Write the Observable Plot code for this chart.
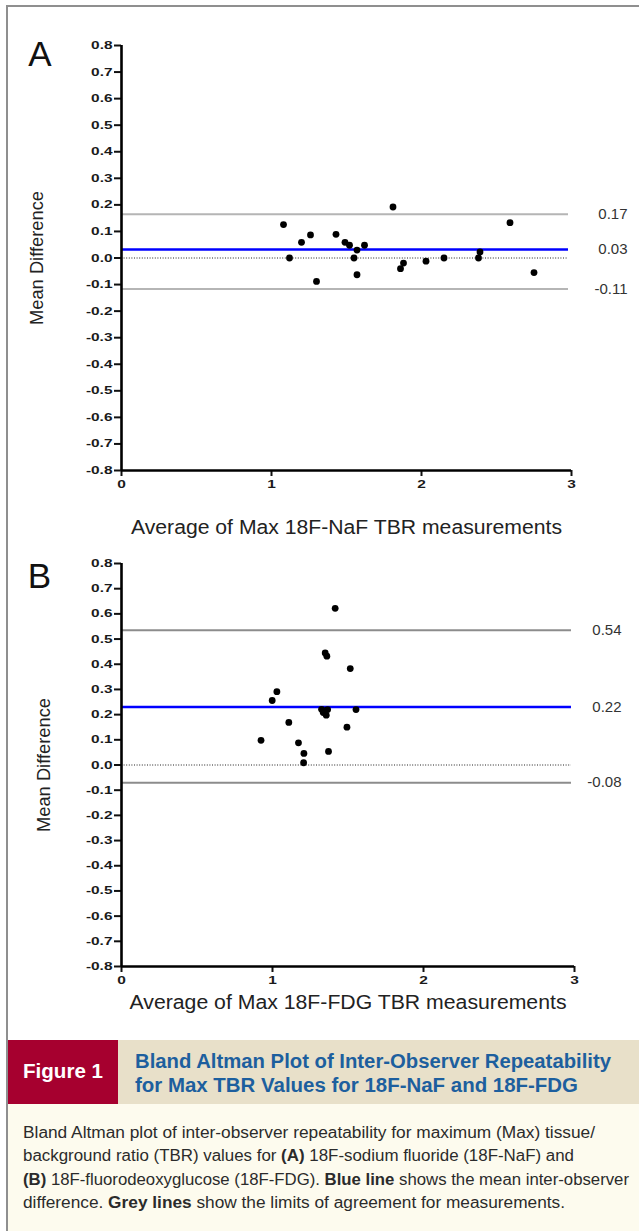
<!DOCTYPE html>
<html><head><meta charset="utf-8">
<script src="https://cdn.jsdelivr.net/npm/d3@7"></script>
<script src="https://cdn.jsdelivr.net/npm/@observablehq/plot@0.6"></script>
<style>
body{margin:0;background:#fff;}
#page{position:relative;width:639px;height:1231px;overflow:hidden;background:#fff;}
.panel{position:absolute;left:0;}
.bl{position:absolute;background:#8f8f8f;}
</style></head>
<body><div id="page">
<div id="pa" class="panel" style="top:0"></div>
<div id="pb" class="panel" style="top:545px"></div>
<svg id="cap" width="639" height="191" style="position:absolute;left:0;top:1040px">
<rect x="8" y="0" width="110" height="64" fill="#a6002f"/>
<rect x="118" y="0" width="521" height="64" fill="#e8e0c9"/>
<rect x="8" y="64" width="631" height="127" fill="#fdfbee"/>
<text x="63" y="38" text-anchor="middle" fill="#fff" font-family="Liberation Sans" font-weight="bold" font-size="20" textLength="80" lengthAdjust="spacingAndGlyphs">Figure 1</text>
<g fill="#1d5f9e" font-family="Liberation Sans" font-weight="bold" font-size="20">
<text x="135" y="28" textLength="476" lengthAdjust="spacingAndGlyphs">Bland Altman Plot of Inter-Observer Repeatability</text>
<text x="135" y="52" textLength="443" lengthAdjust="spacingAndGlyphs">for Max TBR Values for 18F-NaF and 18F-FDG</text>
</g>
<g font-family="Liberation Sans" font-size="16" fill="#2b2b2b">
<text x="23" y="97.5" textLength="572" lengthAdjust="spacingAndGlyphs">Bland Altman plot of inter-observer repeatability for maximum (Max) tissue/</text>
<text x="23" y="121" textLength="551" lengthAdjust="spacingAndGlyphs">background ratio (TBR) values for <tspan font-weight="bold">(A)</tspan> 18F-sodium fluoride (18F-NaF) and</text>
<text x="23" y="144.7" textLength="606" lengthAdjust="spacingAndGlyphs"><tspan font-weight="bold">(B)</tspan> 18F-fluorodeoxyglucose (18F-FDG). <tspan font-weight="bold">Blue line</tspan> shows the mean inter-observer</text>
<text x="23" y="168.3" textLength="542" lengthAdjust="spacingAndGlyphs">difference. <tspan font-weight="bold">Grey lines</tspan> show the limits of agreement for measurements.</text>
</g>
</svg>
<div class="bl" style="left:6px;top:5px;width:2px;height:1226px"></div>
<div class="bl" style="left:6px;top:5px;width:633px;height:2px"></div>
</div>
<script>
// tick values
const xTicks = [0, 1, 2, 3];
const yTicks = [-0.8, -0.7, -0.6, -0.5, -0.4, -0.3, -0.2, -0.1, 0, 0.1, 0.2, 0.3, 0.4, 0.5, 0.6, 0.7, 0.8];

// Panel A: 18F-NaF
const nafAvg  = [1.08, 1.12, 1.20, 1.26, 1.30, 1.43, 1.49, 1.52, 1.55, 1.57, 1.57, 1.62, 1.81, 1.86, 1.88, 2.03, 2.15, 2.38, 2.39, 2.59, 2.75];
const nafDiff = [0.126, 0.0, 0.059, 0.087, -0.088, 0.089, 0.059, 0.048, 0.0, 0.030, -0.063, 0.048, 0.192, -0.040, -0.019, -0.012, 0.0, 0.0, 0.023, 0.133, -0.055];
const nafLimits = [0.165, -0.117];
const nafLimitLabels = ["0.17", "-0.11"];
const nafMean = 0.032;
const nafMeanLabel = "0.03";

// Panel B: 18F-FDG
const fdgAvg  = [1.415, 1.349, 1.360, 1.515, 1.029, 0.998, 1.325, 1.343, 1.356, 1.336, 1.365, 1.553, 1.108, 1.493, 0.924, 1.172, 1.208, 1.371, 1.206];
const fdgDiff = [0.622, 0.445, 0.432, 0.383, 0.291, 0.256, 0.221, 0.215, 0.198, 0.208, 0.220, 0.220, 0.169, 0.150, 0.098, 0.088, 0.046, 0.054, 0.009];
const fdgLimits = [0.535, -0.07];
const fdgLimitLabels = ["0.54", "-0.08"];
const fdgMean = 0.23;
const fdgMeanLabel = "0.22";

const F = "Liberation Sans, Arial, sans-serif";

function fitText(svg, content, len) {
  for (const t of svg.querySelectorAll("text")) {
    if (t.textContent === content) {
      t.setAttribute("textLength", len);
      t.setAttribute("lengthAdjust", "spacingAndGlyphs");
    }
  }
}

function widenTicks(svg, factor) {
  for (const t of svg.querySelectorAll('g[aria-label$="tick label"] text')) {
    const w = t.getComputedTextLength();
    if (w > 0) {
      t.setAttribute("textLength", (w * factor).toFixed(1));
      t.setAttribute("lengthAdjust", "spacingAndGlyphs");
    }
  }
}

function panel(o) {
  const pts = o.avg.map((a, i) => ({a, d: o.diff[i]}));
  const lim = o.limits.map((v, i) => ({v, label: o.labels[i]}));
  const mean = [{v: o.mean, label: o.meanLabel}];
  const svg = Plot.plot({
    width: 639, height: o.height,
    marginTop: o.mt, marginBottom: o.mb, marginLeft: 121, marginRight: o.mr,
    x: {domain: [0, 3]},
    y: {domain: [-0.8, 0.8]},
    style: {fontFamily: F, fontSize: "11px", background: "transparent", color: "#111"},
    marks: [
      Plot.ruleY([0], {x1: 0, x2: 2.98, stroke: "#222", strokeWidth: 1, strokeDasharray: "1,1.6"}),
      Plot.ruleY(lim, {y: "v", x1: 0, x2: 2.98, stroke: o.grey, strokeWidth: 2}),
      Plot.ruleY(mean, {y: "v", x1: 0, x2: 2.98, stroke: "#0000ff", strokeWidth: 2.5}),
      Plot.text(lim.concat(mean), {y: "v", text: "label", frameAnchor: "right", textAnchor: "end", dx: o.labDx,
        fontSize: 15, fontWeight: "normal", fontFamily: F, fill: "#333"}),
      Plot.dot(pts, {x: "a", y: "d", r: 3.4, fill: "#000"}),
      Plot.axisY(yTicks, {tickSize: 7, tickPadding: 2, tickFormat: d => d.toFixed(1), strokeWidth: 2, label: null,
        fill: "#1a1a1a", fontSize: 11, fontWeight: "bold", fontFamily: F}),
      Plot.axisX(xTicks, {tickSize: 6, tickPadding: 4, tickFormat: d => String(d), strokeWidth: 2, label: null,
        fill: "#1a1a1a", fontSize: 11, fontWeight: "bold", fontFamily: F}),
      Plot.ruleX([0], {stroke: "#000", strokeWidth: 2.6}),
      Plot.ruleY([-0.8], {x1: 0, x2: 3, stroke: "#000", strokeWidth: 2.6}),
      Plot.text(["Mean Difference"], {text: d => d, frameAnchor: "left", dx: o.ylabDx, rotate: -90, textAnchor: "middle", lineAnchor: "middle",
        fontSize: 18, fontWeight: "normal", fontFamily: F, fill: "#222"}),
      Plot.text([o.xTitle], {text: d => d, frameAnchor: "bottom", dy: o.xTitleDy, textAnchor: "middle", lineAnchor: "middle",
        fontSize: 20, fontWeight: "normal", fontFamily: F, fill: "#222"}),
      Plot.text([o.letter], {text: d => d, frameAnchor: "top-left", dx: o.letterDx, dy: o.letterDy, textAnchor: "middle", lineAnchor: "middle",
        fontSize: 35, fontWeight: "normal", fontFamily: F, fill: "#111"})
    ]
  });
  fitText(svg, o.xTitle, o.xTitleLen);
  fitText(svg, "Mean Difference", 134);
  return svg;
}

const svgA = panel({
  avg: nafAvg, diff: nafDiff, limits: nafLimits, labels: nafLimitLabels, mean: nafMean, meanLabel: nafMeanLabel,
  grey: "#b5b5b5", height: 545, mt: 45, mb: 75, mr: 68, labDx: 56, ylabDx: -84,
  xTitle: "Average of Max 18F-NaF TBR measurements", xTitleDy: 56.6, xTitleLen: 431, letter: "A", letterDx: -81.5, letterDy: 8.8
});
const svgB = panel({
  avg: fdgAvg, diff: fdgDiff, limits: fdgLimits, labels: fdgLimitLabels, mean: fdgMean, meanLabel: fdgMeanLabel,
  grey: "#8c8c8c", height: 475, mt: 18, mb: 54, mr: 65, labDx: 47, ylabDx: -77,
  xTitle: "Average of Max 18F-FDG TBR measurements", xTitleDy: 35.6, xTitleLen: 437, letter: "B", letterDx: -82, letterDy: 12.8
});
document.getElementById("pa").append(svgA);
document.getElementById("pb").append(svgB);
widenTicks(svgA, 1.4);
widenTicks(svgB, 1.4);
</script>
</body></html>
